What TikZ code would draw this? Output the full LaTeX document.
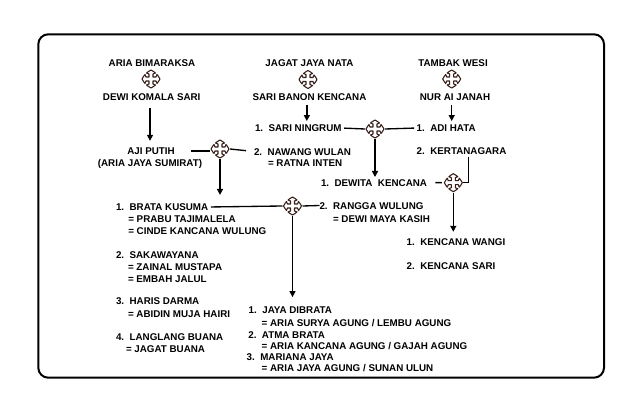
\documentclass[tikz,border=0pt]{standalone}
\usepackage{fontspec}
\setmainfont{Liberation Sans}
\usetikzlibrary{arrows.meta}
\definecolor{crossbrown}{RGB}{55,30,25}
\tikzset{
  lbl/.style={inner sep=0pt, outer sep=0pt, font=\fontsize{7.35pt}{8.5pt}\selectfont\bfseries, text height=5.26pt, text depth=0pt},
  lw/.style={lbl, anchor=west},
  crossnode/.style={minimum size=15pt, inner sep=0pt, outer sep=0pt},
  conn/.style={line width=1pt},
  arr/.style={conn, -{Triangle[length=4.5pt,width=4.5pt]}},
  frame/.style={line width=1.5pt, rounded corners=7.5pt},
  crossmark/.pic={
    \draw[line width=0.8pt, draw=crossbrown, fill=white, line join=round]
      (2,2) -- (5,2) -- (6,4.5) -- (7.5,2.5) -- (9,0) -- (7.5,-2.5) -- (6,-4.5) -- (5,-2)
      -- (2,-2) -- (2,-5) -- (4.5,-6) -- (2.5,-7.5) -- (0,-9) -- (-2.5,-7.5) -- (-4.5,-6) -- (-2,-5)
      -- (-2,-2) -- (-5,-2) -- (-6,-4.5) -- (-7.5,-2.5) -- (-9,0) -- (-7.5,2.5) -- (-6,4.5) -- (-5,2)
      -- (-2,2) -- (-2,5) -- (-4.5,6) -- (-2.5,7.5) -- (0,9) -- (2.5,7.5) -- (4.5,6) -- (2,5) -- cycle;
  }
}
\begin{document}
\begin{tikzpicture}[x=0.75pt,y=-0.75pt]
\useasboundingbox (0,0) rectangle (640,410);
\draw[frame] (38.3,34.3) rectangle (604,377.7);

% top couples
\node[lbl] (ab) at (152,63) {ARIA BIMARAKSA};
\node[crossnode] (crA) at (151,79) {}; \pic at (crA) {crossmark};
\node[lbl] (dks) at (151.7,97) {DEWI KOMALA SARI};

\node[lbl] (jjn) at (309.5,63) {JAGAT JAYA NATA};
\node[crossnode] (crB) at (308,79.5) {}; \pic at (crB) {crossmark};
\node[lbl] (sbk) at (309.5,97) {SARI BANON KENCANA};

\node[lbl] (tw) at (453,63) {TAMBAK WESI};
\node[crossnode] (crC) at (451.7,79) {}; \pic at (crC) {crossmark};
\node[lbl] (nur) at (455,97) {NUR AI JANAH};

% second level
\node[lbl] (aji) at (151,151) {AJI PUTIH};
\node[lbl] (ajs) at (150,162.5) {(ARIA JAYA SUMIRAT)};
\node[crossnode] (cr1) at (220,149) {}; \pic at (cr1) {crossmark};
\node[lw] (nw) at (254,151.5) {2.\ \ NAWANG WULAN};
\node[lw] (ri) at (268,163) {= RATNA INTEN};

\node[lw] (sn) at (255,128) {1.\ \ SARI NINGRUM};
\node[crossnode] (cr4) at (375,129) {}; \pic at (cr4) {crossmark};
\node[lw] (adi) at (416.7,128) {1.\ \ ADI HATA};
\node[lw] (kt) at (416.7,151) {2.\ \ KERTANAGARA};

\node[lw] (dk) at (321,182.5) {1.\ \ DEWITA\ \ KENCANA};
\node[crossnode] (cr5) at (453.3,182.7) {}; \pic at (cr5) {crossmark};

\node[lw] (kw) at (406.7,242) {1.\ \ KENCANA WANGI};
\node[lw] (ks) at (406.7,266) {2.\ \ KENCANA SARI};

% third level
\node[lw] (bk) at (116,207) {1.\ \ BRATA KUSUMA};
\node[lw] (ptj) at (128.3,218.7) {= PRABU TAJIMALELA};
\node[lw] (ckw) at (128.3,230.8) {= CINDE KANCANA WULUNG};
\node[crossnode] (cr6) at (292.5,206) {}; \pic at (cr6) {crossmark};
\node[lw] (rw) at (319.5,205.5) {2.\ \ RANGGA WULUNG};
\node[lw] (dmk) at (333,218.8) {= DEWI MAYA KASIH};

\node[lw] (sk) at (116,254.5) {2.\ \ SAKAWAYANA};
\node[lw] (zm) at (128,266.7) {= ZAINAL MUSTAPA};
\node[lw] (ej) at (128,278.8) {= EMBAH JALUL};
\node[lw] (hd) at (116,301) {3.\ \ HARIS DARMA};
\node[lw] (amh) at (128,313.5) {= ABIDIN MUJA HAIRI};
\node[lw] (lb) at (116,337) {4.\ \ LANGLANG BUANA};
\node[lw] (jb) at (126,349) {= JAGAT BUANA};

\node[lw] (jd) at (248.7,310.3) {1.\ \ JAYA DIBRATA};
\node[lw] (asa) at (261.7,322.5) {= ARIA SURYA AGUNG / LEMBU AGUNG};
\node[lw] (atb) at (248.3,334.5) {2.\ \ ATMA BRATA};
\node[lw] (aka) at (261.7,345.8) {= ARIA KANCANA AGUNG / GAJAH AGUNG};
\node[lw] (mj) at (246.7,356.7) {3.\ \ MARIANA JAYA};
\node[lw] (aja) at (261.7,368) {= ARIA JAYA AGUNG / SUNAN ULUN};

% connectors
\draw[arr, shorten <=5.5pt, shorten >=5pt] (dks.south -| ajs.north) -- (ajs.north |- aji.north);
\draw[arr, shorten <=3.2pt, shorten >=2.6pt] ([xshift=-2pt]sbk.south) -- ([xshift=-2pt]sbk.south |- sn.north);
\draw[arr, shorten <=3.2pt, shorten >=2.6pt] (crC |- nur.south) -- (crC |- adi.north);

\draw[conn, shorten <=2pt] (sn.east) -- (cr4.west);
\draw[conn, shorten >=2pt] (cr4.east) -- (adi.west);
\draw[arr, shorten >=1.5pt] (cr4.south) -- (cr4.south |- dk.north);

\draw[conn, shorten <=12.5pt] (aji.east) -- (aji.east -| cr1.west);
\draw[conn, shorten >=6pt] (cr1.east) -- (nw.west);
\draw[arr, shorten >=6.4pt] (cr1.south) -- (cr1.south |- bk.north);

\draw[conn, shorten <=1.5pt] ([xshift=5pt]kt.south) |- (cr5.east);
\draw[conn, shorten <=6.3pt, shorten >=1pt] (dk.east) -- (cr5.west);
\draw[arr, shorten >=5pt] (cr5.south) -- (cr5.south |- kw.north);

\draw[conn, shorten <=2pt] (bk.east) -- (cr6.west);
\draw[conn] (cr6.east) -- (rw.west);
\draw[arr, shorten >=7.3pt] (cr6.south) -- (cr6.south |- jd.north);
\end{tikzpicture}
\end{document}
